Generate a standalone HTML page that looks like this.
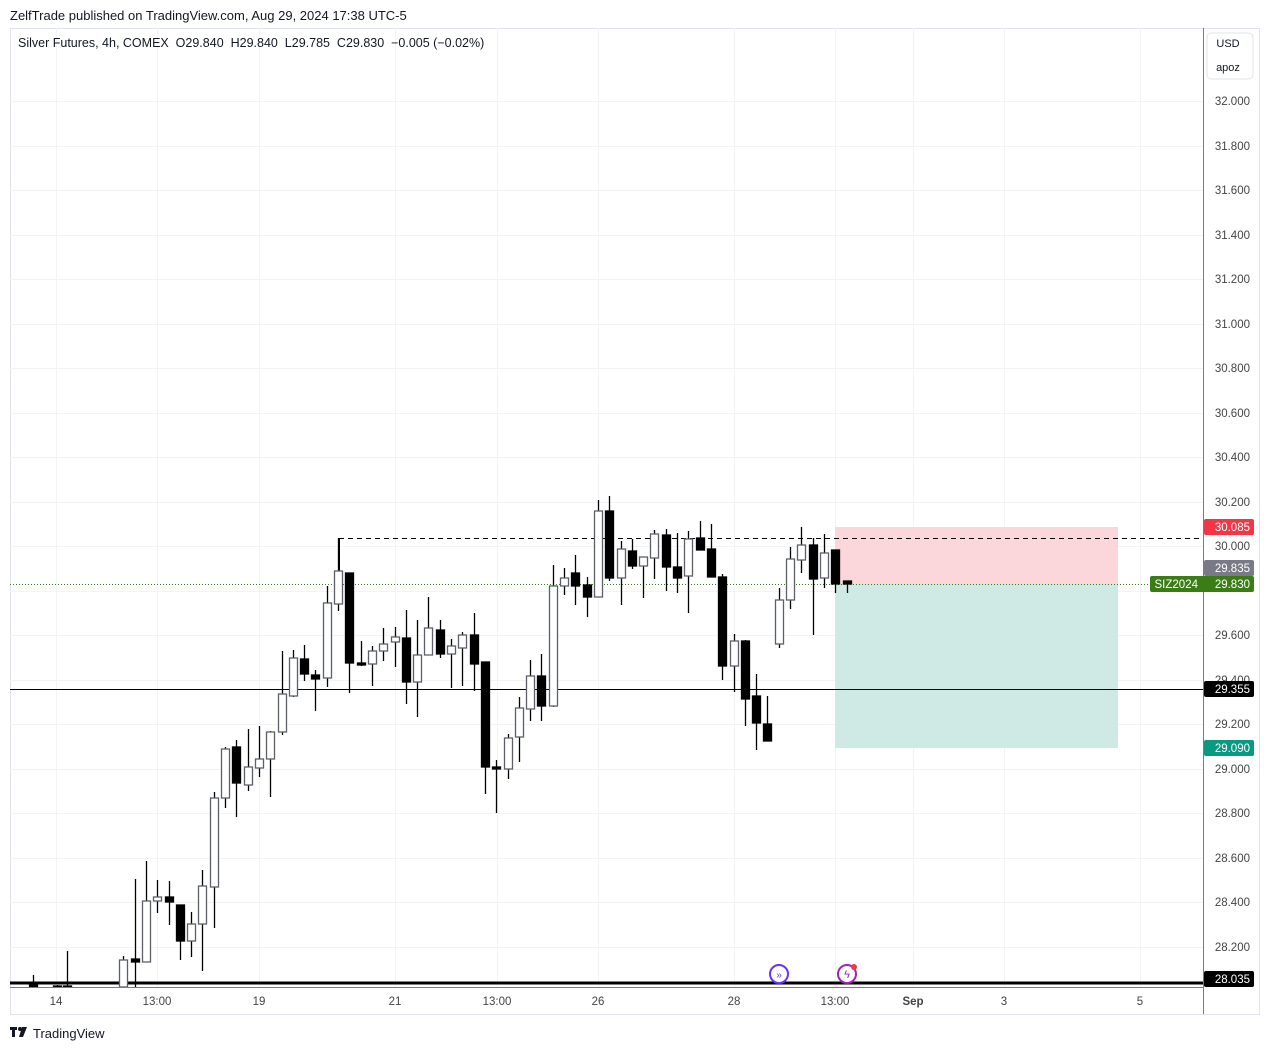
<!DOCTYPE html>
<html><head><meta charset="utf-8"><style>
body{margin:0;background:#fff;font-family:"Liberation Sans",sans-serif}
svg text{font-family:"Liberation Sans",sans-serif}
.w line{stroke:#000;stroke-width:1.3}
.b{fill:#fff;stroke:#5d606b;stroke-width:1.3}
.s{fill:#000;stroke:#000;stroke-width:1.3}
</style></head><body>
<svg width="1269" height="1050" viewBox="0 0 1269 1050" xmlns="http://www.w3.org/2000/svg">
<rect width="1269" height="1050" fill="#fff"/>
<text x="10" y="20" font-size="13" fill="#131722">ZelfTrade published on TradingView.com, Aug 29, 2024 17:38 UTC-5</text>
<rect x="10.5" y="28.5" width="1249" height="986" fill="#fff" stroke="#e0e3eb"/>
<g stroke="#f2f3f5" stroke-width="1">
<line x1="10" y1="101.5" x2="1203" y2="101.5"/><line x1="10" y1="146.5" x2="1203" y2="146.5"/><line x1="10" y1="190.5" x2="1203" y2="190.5"/><line x1="10" y1="235.5" x2="1203" y2="235.5"/><line x1="10" y1="279.5" x2="1203" y2="279.5"/><line x1="10" y1="324.5" x2="1203" y2="324.5"/><line x1="10" y1="368.5" x2="1203" y2="368.5"/><line x1="10" y1="413.5" x2="1203" y2="413.5"/><line x1="10" y1="457.5" x2="1203" y2="457.5"/><line x1="10" y1="502.5" x2="1203" y2="502.5"/><line x1="10" y1="546.5" x2="1203" y2="546.5"/><line x1="10" y1="591.5" x2="1203" y2="591.5"/><line x1="10" y1="635.5" x2="1203" y2="635.5"/><line x1="10" y1="680.5" x2="1203" y2="680.5"/><line x1="10" y1="724.5" x2="1203" y2="724.5"/><line x1="10" y1="769.5" x2="1203" y2="769.5"/><line x1="10" y1="813.5" x2="1203" y2="813.5"/><line x1="10" y1="858.5" x2="1203" y2="858.5"/><line x1="10" y1="902.5" x2="1203" y2="902.5"/><line x1="10" y1="947.5" x2="1203" y2="947.5"/>
<line x1="56.5" y1="28" x2="56.5" y2="987"/><line x1="157.5" y1="28" x2="157.5" y2="987"/><line x1="259.5" y1="28" x2="259.5" y2="987"/><line x1="395.5" y1="28" x2="395.5" y2="987"/><line x1="497.5" y1="28" x2="497.5" y2="987"/><line x1="598.5" y1="28" x2="598.5" y2="987"/><line x1="734.5" y1="28" x2="734.5" y2="987"/><line x1="835.5" y1="28" x2="835.5" y2="987"/><line x1="913.5" y1="28" x2="913.5" y2="987"/><line x1="1004.5" y1="28" x2="1004.5" y2="987"/><line x1="1140.5" y1="28" x2="1140.5" y2="987"/>
</g>
<rect x="835" y="527" width="283" height="57" fill="#fbd6da"/>
<rect x="835" y="584" width="283" height="164" fill="#cfeae4"/>
<line x1="339" y1="538.5" x2="1203" y2="538.5" stroke="#000" stroke-dasharray="5,4"/>
<line x1="339.5" y1="538" x2="339.5" y2="571" stroke="#000"/>
<line x1="10" y1="584.5" x2="1150" y2="584.5" stroke="#3a7d16" stroke-dasharray="1,2"/>
<line x1="10" y1="689.5" x2="1203" y2="689.5" stroke="#000"/>
<line x1="10" y1="983" x2="1203" y2="983" stroke="#000" stroke-width="3"/>
<g class="w">
<line x1="33.5" y1="975" x2="33.5" y2="987"/><line x1="57.5" y1="985" x2="57.5" y2="987"/><line x1="67.5" y1="951" x2="67.5" y2="987"/><line x1="123.5" y1="956" x2="123.5" y2="987"/><line x1="135.5" y1="879" x2="135.5" y2="987"/><line x1="146.5" y1="861" x2="146.5" y2="962"/><line x1="157.5" y1="880" x2="157.5" y2="913"/><line x1="169.5" y1="881" x2="169.5" y2="925"/><line x1="180.5" y1="905" x2="180.5" y2="960"/><line x1="191.5" y1="912" x2="191.5" y2="957"/><line x1="202.5" y1="870" x2="202.5" y2="971"/><line x1="214.5" y1="792" x2="214.5" y2="928"/><line x1="225.5" y1="747" x2="225.5" y2="808"/><line x1="236.5" y1="740" x2="236.5" y2="817"/><line x1="248.5" y1="729" x2="248.5" y2="791"/><line x1="259.5" y1="726" x2="259.5" y2="777"/><line x1="270.5" y1="731" x2="270.5" y2="797"/><line x1="282.5" y1="651" x2="282.5" y2="735"/><line x1="293.5" y1="650" x2="293.5" y2="697"/><line x1="304.5" y1="645" x2="304.5" y2="681"/><line x1="315.5" y1="670" x2="315.5" y2="711"/><line x1="327.5" y1="586" x2="327.5" y2="687"/><line x1="338.5" y1="538" x2="338.5" y2="611"/><line x1="349.5" y1="573" x2="349.5" y2="693"/><line x1="361.5" y1="641" x2="361.5" y2="666"/><line x1="372.5" y1="646" x2="372.5" y2="686"/><line x1="383.5" y1="628" x2="383.5" y2="661"/><line x1="395.5" y1="627" x2="395.5" y2="667"/><line x1="406.5" y1="610" x2="406.5" y2="704"/><line x1="417.5" y1="620" x2="417.5" y2="717"/><line x1="428.5" y1="597" x2="428.5" y2="655"/><line x1="440.5" y1="620" x2="440.5" y2="658"/><line x1="451.5" y1="639" x2="451.5" y2="688"/><line x1="462.5" y1="632" x2="462.5" y2="686"/><line x1="474.5" y1="613" x2="474.5" y2="691"/><line x1="485.5" y1="662" x2="485.5" y2="794"/><line x1="496.5" y1="760" x2="496.5" y2="813"/><line x1="508.5" y1="734" x2="508.5" y2="779"/><line x1="519.5" y1="697" x2="519.5" y2="762"/><line x1="530.5" y1="660" x2="530.5" y2="721"/><line x1="541.5" y1="654" x2="541.5" y2="721"/><line x1="553.5" y1="565" x2="553.5" y2="707"/><line x1="564.5" y1="568" x2="564.5" y2="595"/><line x1="575.5" y1="555" x2="575.5" y2="605"/><line x1="587.5" y1="577" x2="587.5" y2="617"/><line x1="598.5" y1="500" x2="598.5" y2="597"/><line x1="609.5" y1="496" x2="609.5" y2="581"/><line x1="621.5" y1="541" x2="621.5" y2="605"/><line x1="632.5" y1="539" x2="632.5" y2="569"/><line x1="643.5" y1="557" x2="643.5" y2="598"/><line x1="654.5" y1="530" x2="654.5" y2="579"/><line x1="666.5" y1="529" x2="666.5" y2="591"/><line x1="677.5" y1="533" x2="677.5" y2="593"/><line x1="688.5" y1="531" x2="688.5" y2="613"/><line x1="700.5" y1="521" x2="700.5" y2="550"/><line x1="711.5" y1="524" x2="711.5" y2="577"/><line x1="722.5" y1="574" x2="722.5" y2="680"/><line x1="734.5" y1="634" x2="734.5" y2="692"/><line x1="745.5" y1="640" x2="745.5" y2="726"/><line x1="756.5" y1="674" x2="756.5" y2="750"/><line x1="767.5" y1="696" x2="767.5" y2="741"/><line x1="779.5" y1="588" x2="779.5" y2="648"/><line x1="790.5" y1="547" x2="790.5" y2="609"/><line x1="801.5" y1="527" x2="801.5" y2="573"/><line x1="813.5" y1="538" x2="813.5" y2="635"/><line x1="824.5" y1="534" x2="824.5" y2="588"/><line x1="835.5" y1="550" x2="835.5" y2="593"/><line x1="847.5" y1="581" x2="847.5" y2="593"/>
</g>
<g>
<rect class="s" x="29.5" y="985" width="8" height="2"/><rect class="s" x="53.5" y="986" width="8" height="1"/><rect class="s" x="63.5" y="986" width="8" height="1"/>
<rect class="b" x="119.5" y="960" width="8" height="27"/><rect class="s" x="131.5" y="959" width="8" height="3"/><rect class="b" x="142.5" y="901" width="8" height="61"/><rect class="b" x="153.5" y="897" width="8" height="4"/><rect class="s" x="165.5" y="897" width="8" height="5"/><rect class="s" x="176.5" y="905" width="8" height="36"/><rect class="b" x="187.5" y="924" width="8" height="17"/><rect class="b" x="198.5" y="886" width="8" height="38"/><rect class="b" x="210.5" y="798" width="8" height="89"/><rect class="b" x="221.5" y="749" width="8" height="49"/><rect class="s" x="232.5" y="747" width="8" height="36"/><rect class="b" x="244.5" y="767" width="8" height="18"/><rect class="b" x="255.5" y="759" width="8" height="9"/><rect class="b" x="266.5" y="732" width="8" height="27"/><rect class="b" x="278.5" y="694" width="8" height="38"/><rect class="b" x="289.5" y="658" width="8" height="38"/><rect class="s" x="300.5" y="659" width="8" height="15"/><rect class="s" x="311.5" y="675" width="8" height="4"/><rect class="b" x="323.5" y="603" width="8" height="75"/><rect class="b" x="334.5" y="571" width="8" height="33"/><rect class="s" x="345.5" y="573" width="8" height="90"/><rect class="s" x="357.5" y="663" width="8" height="2"/><rect class="b" x="368.5" y="651" width="8" height="13"/><rect class="b" x="379.5" y="644" width="8" height="7"/><rect class="b" x="391.5" y="637" width="8" height="5"/><rect class="s" x="402.5" y="638" width="8" height="44"/><rect class="b" x="413.5" y="655" width="8" height="27"/><rect class="b" x="424.5" y="628" width="8" height="27"/><rect class="s" x="436.5" y="630" width="8" height="24"/><rect class="b" x="447.5" y="646" width="8" height="8"/><rect class="b" x="458.5" y="635" width="8" height="13"/><rect class="s" x="470.5" y="635" width="8" height="29"/><rect class="s" x="481.5" y="662" width="8" height="105"/><rect class="s" x="492.5" y="767" width="8" height="2"/><rect class="b" x="504.5" y="738" width="8" height="31"/><rect class="b" x="515.5" y="708" width="8" height="29"/><rect class="b" x="526.5" y="676" width="8" height="33"/><rect class="s" x="537.5" y="676" width="8" height="30"/><rect class="b" x="549.5" y="586" width="8" height="120"/><rect class="b" x="560.5" y="578" width="8" height="8"/><rect class="s" x="571.5" y="573" width="8" height="13"/><rect class="s" x="583.5" y="585" width="8" height="12"/><rect class="b" x="594.5" y="511" width="8" height="86"/><rect class="s" x="605.5" y="511" width="8" height="67"/><rect class="b" x="617.5" y="549" width="8" height="29"/><rect class="s" x="628.5" y="551" width="8" height="15"/><rect class="b" x="639.5" y="557" width="8" height="9"/><rect class="b" x="650.5" y="534" width="8" height="24"/><rect class="s" x="662.5" y="535" width="8" height="32"/><rect class="s" x="673.5" y="567" width="8" height="11"/><rect class="b" x="684.5" y="539" width="8" height="37"/><rect class="s" x="696.5" y="538" width="8" height="12"/><rect class="s" x="707.5" y="549" width="8" height="28"/><rect class="s" x="718.5" y="577" width="8" height="89"/><rect class="b" x="730.5" y="641" width="8" height="25"/><rect class="s" x="741.5" y="641" width="8" height="58"/><rect class="s" x="752.5" y="696" width="8" height="27"/><rect class="s" x="763.5" y="724" width="8" height="17"/><rect class="b" x="775.5" y="600" width="8" height="44"/><rect class="b" x="786.5" y="559" width="8" height="41"/><rect class="b" x="797.5" y="545" width="8" height="15"/><rect class="s" x="809.5" y="545" width="8" height="34"/><rect class="b" x="820.5" y="553" width="8" height="25"/><rect class="s" x="831.5" y="550" width="8" height="34"/><rect class="s" x="843.5" y="581" width="8" height="3"/>
</g>
<line x1="10" y1="987.5" x2="1203" y2="987.5" stroke="#787b86"/>
<line x1="1203.5" y1="28" x2="1203.5" y2="1014" stroke="#787b86"/>
<rect x="1207" y="33" width="46" height="46" rx="4" fill="#fff" stroke="#e0e3eb"/>
<text x="1228" y="47" font-size="11" fill="#131722" text-anchor="middle">USD</text>
<text x="1228" y="71" font-size="11" fill="#131722" text-anchor="middle">apoz</text>
<g font-size="11.5" fill="#444" text-anchor="end">
<text x="1250" y="105">32.000</text><text x="1250" y="150">31.800</text><text x="1250" y="194">31.600</text><text x="1250" y="239">31.400</text><text x="1250" y="283">31.200</text><text x="1250" y="328">31.000</text><text x="1250" y="372">30.800</text><text x="1250" y="417">30.600</text><text x="1250" y="461">30.400</text><text x="1250" y="506">30.200</text><text x="1250" y="550">30.000</text><text x="1250" y="639">29.600</text><text x="1250" y="684">29.400</text><text x="1250" y="728">29.200</text><text x="1250" y="773">29.000</text><text x="1250" y="817">28.800</text><text x="1250" y="862">28.600</text><text x="1250" y="906">28.400</text><text x="1250" y="951">28.200</text>
</g>
<g font-size="11.5" fill="#fff" text-anchor="end">
<rect x="1204" y="519" width="50" height="16" rx="2" fill="#f23645"/><text x="1250" y="531">30.085</text>
<rect x="1204" y="560" width="50" height="16" rx="2" fill="#787b86"/><text x="1250" y="572">29.835</text>
<rect x="1150" y="576" width="104" height="16" rx="2" fill="#3a7d16"/><text x="1250" y="588">29.830</text><text x="1198" y="588">SIZ2024</text>
<rect x="1204" y="681" width="50" height="16" rx="2" fill="#000"/><text x="1250" y="693">29.355</text>
<rect x="1204" y="740" width="50" height="16" rx="2" fill="#089981"/><text x="1250" y="752">29.090</text>
<rect x="1204" y="971" width="50" height="16" rx="2" fill="#000"/><text x="1250" y="983">28.035</text>
</g>
<g font-size="11.5" fill="#444" text-anchor="middle">
<text x="56" y="1005">14</text><text x="157" y="1005">13:00</text><text x="259" y="1005">19</text><text x="395" y="1005">21</text><text x="497" y="1005">13:00</text><text x="598" y="1005">26</text><text x="734" y="1005">28</text><text x="835" y="1005">13:00</text><text x="913" y="1005" font-weight="bold">Sep</text><text x="1004" y="1005">3</text><text x="1140" y="1005">5</text>
</g>
<circle cx="779" cy="974" r="9" fill="#fff" stroke="#6633ff" stroke-width="2"/>
<text x="779" y="978" font-size="10" fill="#6633ff" text-anchor="middle">»</text>
<circle cx="847" cy="974" r="9" fill="#fff" stroke="#9c27b0" stroke-width="2"/>
<text x="847" y="978" font-size="11" fill="#9c27b0" text-anchor="middle">ϟ</text>
<circle cx="854" cy="967" r="3" fill="#f23645"/>
<text x="18" y="47" font-size="12.5" fill="#131722" xml:space="preserve">Silver Futures, 4h, COMEX  O29.840  H29.840  L29.785  C29.830  −0.005 (−0.02%)</text>
<g fill="#131722"><rect x="10" y="1027" width="7" height="3"/><rect x="12" y="1027" width="3" height="10"/><circle cx="20" cy="1029" r="2"/><path d="M22 1027h5l-4 10h-4z"/></g>
<text x="33" y="1038" font-size="13" fill="#131722">TradingView</text>
</svg>
</body></html>
